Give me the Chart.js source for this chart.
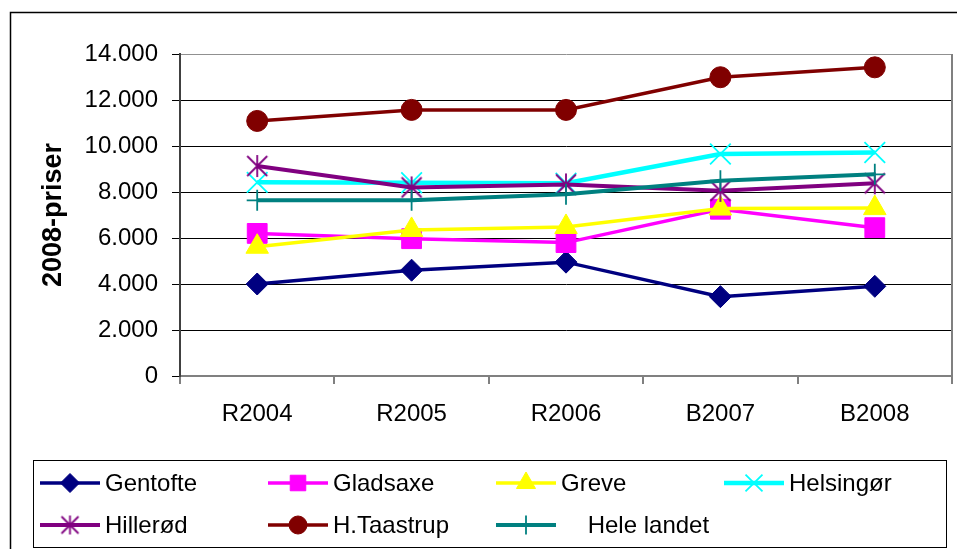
<!DOCTYPE html>
<html>
<head>
<meta charset="utf-8">
<script src="https://cdn.jsdelivr.net/npm/chart.js@4.4.1/dist/chart.umd.min.js"></script>
<style>
  html, body { margin: 0; padding: 0; background: #fff; overflow: hidden; }
  #wrap { width: 957px; height: 549px; position: relative; }
</style>
</head>
<body>
<div id="wrap"><canvas id="c" width="957" height="549"></canvas></div>
<script>
// Budget years and the cost per unit (2008 prices) for each municipality
const categories = ['R2004', 'R2005', 'R2006', 'B2007', 'B2008'];
const gentofte   = [4000, 4600, 4950, 3450, 3900];
const gladsaxe   = [6200, 5970, 5800, 7250, 6450];
const greve      = [5620, 6350, 6480, 7280, 7300];
const helsingor  = [8420, 8400, 8380, 9650, 9720];
const hillerod   = [9130, 8200, 8330, 8050, 8380];
const hTaastrup  = [11090, 11570, 11570, 12990, 13420];
const heleLandet = [7640, 7640, 7900, 8490, 8770];
const seriesNames = ['Gentofte', 'Gladsaxe', 'Greve', 'Helsingør', 'Hillerød', 'H.Taastrup', '    Hele landet'];
const yMin = 0, yMax = 14000, yStep = 2000;
const yTitle = '2008-priser';

const FONT = "'Liberation Sans', Arial, sans-serif";

// Asterisk marker: a diagonal cross with a vertical bar through it
function makeAsterisk(color, half, vhalf, lw) {
  const s = Math.ceil(Math.max(half, vhalf) * 2 + lw * 2 + 2);
  const cv = document.createElement('canvas');
  cv.width = s; cv.height = s;
  const g = cv.getContext('2d');
  const c = s / 2;
  g.strokeStyle = color; g.lineWidth = lw; g.lineCap = 'butt';
  g.beginPath();
  g.moveTo(c - half, c - half); g.lineTo(c + half, c + half);
  g.moveTo(c + half, c - half); g.lineTo(c - half, c + half);
  g.moveTo(c, c - vhalf); g.lineTo(c, c + vhalf);
  g.stroke();
  return cv;
}
const starBig = makeAsterisk('#800080', 10, 11, 1.8);
const starSmall = makeAsterisk('#800080', 8.5, 9.5, 1.8);

const styles = [
  { color: '#000080', style: 'rectRot',  radius: 11,   lw: 3.5, bw: 1,   lr: 9.5 },
  { color: '#FF00FF', style: 'rect',     radius: 14,   lw: 3.5, bw: 1,   lr: 11 },
  { color: '#FFFF00', style: 'triangle', radius: 13,   lw: 3.5, bw: 1,   lr: 11 },
  { color: '#00FFFF', style: 'crossRot', radius: 14.6, lw: 4.5, bw: 1.8, lr: 12 },
  { color: '#800080', style: starBig,    radius: 11,   lw: 4,   bw: 1.8, lr: 9, legendStyle: starSmall },
  { color: '#800000', style: 'circle',   radius: 10.5, lw: 3.5, bw: 1,   lr: 9 },
  { color: '#008080', style: 'cross',    radius: 10.5, lw: 4,   bw: 1.8, lr: 9.5 }
];
const seriesValues = [gentofte, gladsaxe, greve, helsingor, hillerod, hTaastrup, heleLandet];

const datasets = seriesValues.map((vals, i) => ({
  label: seriesNames[i],
  data: vals,
  borderColor: styles[i].color,
  backgroundColor: styles[i].color,
  borderWidth: styles[i].lw,
  pointStyle: styles[i].style,
  pointRadius: styles[i].radius,
  pointHoverRadius: styles[i].radius,
  pointBorderWidth: styles[i].bw,
  pointBackgroundColor: styles[i].color,
  pointBorderColor: styles[i].color,
  tension: 0,
  fill: false,
  clip: false,
  order: seriesValues.length - i
}));

function fmtThousands(v) {
  const s = String(Math.round(v));
  return s.replace(/\B(?=(\d{3})+(?!\d))/g, '.');
}

const framePlugin = {
  id: 'frame',
  beforeDraw(chart) {
    const ctx = chart.ctx;
    ctx.save();
    ctx.fillStyle = '#fff';
    ctx.fillRect(0, 0, chart.width, chart.height);
    ctx.strokeStyle = '#000';
    ctx.lineWidth = 1.5;
    ctx.beginPath();
    ctx.moveTo(10.5, chart.height + 5);
    ctx.lineTo(10.5, 12.5);
    ctx.lineTo(chart.width + 5, 12.5);
    ctx.stroke();
    ctx.restore();
  },
  beforeDatasetsDraw(chart) {
    const a = chart.chartArea;
    const ctx = chart.ctx;
    ctx.save();
    ctx.strokeStyle = '#808080';
    ctx.lineWidth = 2;
    ctx.beginPath();
    ctx.moveTo(a.right, a.top);
    ctx.lineTo(a.right, a.bottom);
    ctx.stroke();
    ctx.restore();
  },
  afterDraw(chart) {
    // Legend box below the plot, four columns
    const ctx = chart.ctx;
    const box = { x: 33.5, y: 460.5, w: 913, h: 87 };
    ctx.save();
    ctx.strokeStyle = '#000';
    ctx.lineWidth = 1;
    ctx.strokeRect(box.x, box.y, box.w, box.h);
    const colW = 228;
    const rows = [483, 525];
    chart.data.datasets.forEach((ds, i) => {
      const st = styles[i];
      const col = i % 4, row = Math.floor(i / 4);
      const x0 = 40 + col * colW;
      const y = rows[row];
      ctx.strokeStyle = st.color;
      ctx.lineWidth = st.lw;
      ctx.beginPath();
      ctx.moveTo(x0, y);
      ctx.lineTo(x0 + 60, y);
      ctx.stroke();
      ctx.fillStyle = st.color;
      ctx.strokeStyle = st.color;
      ctx.lineWidth = st.bw;
      Chart.helpers.drawPoint(ctx, {
        pointStyle: st.legendStyle || st.style,
        rotation: 0,
        radius: st.lr,
        borderWidth: st.bw
      }, x0 + 30, y);
      ctx.fillStyle = '#000';
      ctx.font = '24px ' + FONT;
      ctx.textBaseline = 'middle';
      ctx.textAlign = 'left';
      ctx.fillText(ds.label, x0 + 65, y + 1);
    });
    ctx.restore();
  }
};

new Chart(document.getElementById('c'), {
  type: 'line',
  data: { labels: categories, datasets },
  options: {
    responsive: false,
    animation: false,
    layout: { autoPadding: false, padding: { left: 0, top: 54, right: 5, bottom: 113 } },
    plugins: { legend: { display: false }, tooltip: { enabled: false } },
    scales: {
      x: {
        offset: true,
        grid: { offset: true, drawOnChartArea: false, color: '#808080', tickColor: '#808080', tickLength: 8, lineWidth: 2 },
        border: { color: '#808080', width: 2 },
        ticks: { color: '#000', font: { family: FONT, size: 24 }, padding: 16, maxRotation: 0 },
        afterFit(scale) { scale.height = 60; scale.paddingLeft = 0; scale.paddingRight = 0; }
      },
      y: {
        min: yMin, max: yMax,
        grid: {
          color: c => (c.tick && c.tick.value === yMax) ? '#909090' : '#000',
          tickColor: '#000',
          lineWidth: 1,
          tickLength: 8
        },
        border: { color: '#404040', width: 2 },
        ticks: {
          stepSize: yStep,
          color: '#000',
          font: { family: FONT, size: 24 },
          padding: 14,
          callback: v => fmtThousands(v)
        },
        title: {
          display: true,
          text: yTitle,
          color: '#000',
          font: { family: FONT, size: 27, weight: 'bold' },
          padding: { top: 37, bottom: 0 }
        },
        afterFit(scale) { scale.width = 180; scale.paddingTop = 0; scale.paddingBottom = 0; }
      }
    }
  },
  plugins: [framePlugin]
});
</script>
</body>
</html>
